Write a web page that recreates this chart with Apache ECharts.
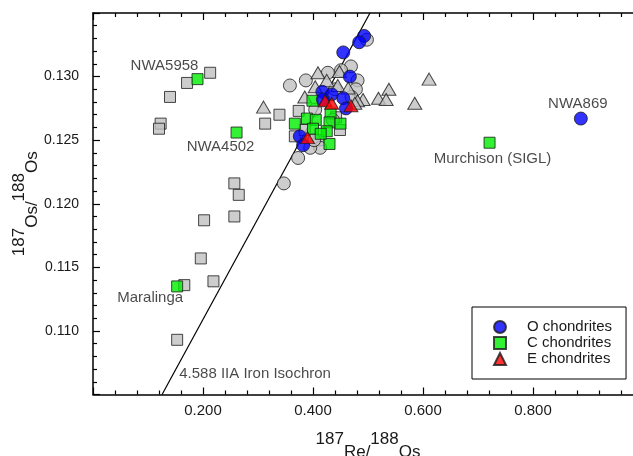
<!DOCTYPE html>
<html><head><meta charset="utf-8">
<script src="https://cdn.jsdelivr.net/npm/echarts@6/dist/echarts.min.js"></script>
<style>html,body{margin:0;padding:0;background:#fff}#c{width:633px;height:456px}</style>
</head><body><div id="c"></div>
<script>
// ---- data ----
const oChondrites = [[0.493,0.1332],[0.484,0.1327],[0.455,0.1319],[0.467,0.1300],[0.417,0.1288],[0.434,0.1286],[0.455,0.1283],[0.460,0.1275],[0.418,0.1282],[0.376,0.1253],[0.382,0.1246],[0.887,0.1267]];
const oNames = ['','','','','','','','','','','','NWA869'];
const cChondrites = [[0.190,0.1298],[0.261,0.1256],[0.153,0.1135],[0.721,0.1248],[0.399,0.1281],[0.367,0.1263],[0.389,0.1267],[0.405,0.1266],[0.432,0.1271],[0.430,0.1264],[0.450,0.1263],[0.400,0.1259],[0.425,0.1257],[0.430,0.1247],[0.414,0.1255]];
const cNames = ['NWA5958','NWA4502','Maralinga','Murchison (SIGL)','','','','','','','','','','',''];
const eChondrites = [[0.422,0.1281],[0.434,0.1279],[0.469,0.1277],[0.390,0.1252]];
const graySquares = [[0.213,0.1303],[0.171,0.1295],[0.140,0.1284],[0.123,0.1263],[0.120,0.1259],[0.313,0.1263],[0.339,0.1270],[0.374,0.1273],[0.257,0.1216],[0.265,0.1207],[0.202,0.1187],[0.257,0.1190],[0.196,0.1157],[0.166,0.1136],[0.219,0.1139],[0.153,0.1093],[0.367,0.1253],[0.385,0.1258],[0.449,0.1258],[0.442,0.1268],[0.410,0.1250]];
const grayCircles = [[0.498,0.1329],[0.469,0.1308],[0.451,0.1305],[0.427,0.1303],[0.387,0.1297],[0.358,0.1293],[0.481,0.1297],[0.373,0.1236],[0.347,0.1216],[0.413,0.1244],[0.395,0.1244],[0.402,0.1250],[0.478,0.1290],[0.440,0.1290],[0.436,0.1266],[0.404,0.1274],[0.470,0.1284]];
const grayTriangles = [[0.310,0.1276],[0.409,0.1303],[0.448,0.1304],[0.611,0.1298],[0.538,0.1290],[0.519,0.1283],[0.533,0.1282],[0.491,0.1282],[0.481,0.1281],[0.585,0.1279],[0.404,0.1292],[0.385,0.1284],[0.445,0.1293],[0.464,0.1291],[0.425,0.1297],[0.476,0.1279]];
const isochron = [[0.1256,0.105],[0.5036,0.135]];
const isochronLabel = '4.588 IIA Iron Isochron';
const legendNames = ['O chondrites','C chondrites','E chondrites'];
const xTickLabels = ['0.200','0.400','0.600','0.800'];
const yTickLabels = ['0.110','0.115','0.120','0.125','0.130'];

// ---- styles ----
const FONT = 'Liberation Sans, Arial, sans-serif';
const TXT = '#1a1a1a';
const labelOffsets = {
  'NWA5958':[-33,-13], 'NWA4502':[-16,14], 'Maralinga':[-27,11],
  'Murchison (SIGL)':[3,16], 'NWA869':[-3,-15]
};
function withLabels(data, names){
  return data.map((d,i)=>{
    const n = names[i];
    if(!n) return d;
    return {value:d, label:{show:true, formatter:n, position:'inside', offset:labelOffsets[n],
      color:TXT, fontSize:15, fontFamily:FONT}};
  });
}
const border = {borderColor:'#1a1a1a', borderWidth:1};
const chart = echarts.init(document.getElementById('c'));
const fmt = (labels)=> (v)=>{ const s=v.toFixed(3); return labels.indexOf(s)>=0 ? s : ''; };
const axisCommon = {
  axisLine:{show:true,onZero:false,lineStyle:{color:'#000',width:1.5}},
  axisTick:{show:true,inside:true,length:7,lineStyle:{color:'#000',width:1.2}},
  minorTick:{show:true,splitNumber:5,length:4,lineStyle:{color:'#000',width:1.2}},
  splitLine:{show:false}
};
const nameRich = {
  sup:{fontSize:17,fontFamily:FONT,color:TXT,lineHeight:20,verticalAlign:'top'},
  base:{fontSize:17,fontFamily:FONT,color:TXT,lineHeight:30,verticalAlign:'bottom'}
};
chart.setOption({
  animation:false,
  backgroundColor:'#fff',
  grid:{left:93,top:13,right:-10,bottom:61.5,containLabel:false,outerBoundsMode:'none'},
  xAxis:[
    Object.assign({type:'value',min:0,max:1.0,interval:0.2,position:'bottom',
      axisLabel:{formatter:fmt(xTickLabels),fontSize:15,fontFamily:FONT,color:TXT,margin:9},
      name:'{sup|187}{base|Re/}{sup|188}{base|Os}',nameLocation:'middle',nameGap:36,nameMoveOverlap:false,
      nameTextStyle:{rich:nameRich}},axisCommon),
    Object.assign({type:'value',min:0,max:1.0,interval:0.2,position:'top',axisLabel:{show:false}},axisCommon)
  ],
  yAxis:[
    Object.assign({type:'value',min:0.105,max:0.135,interval:0.005,position:'left',
      axisLabel:{formatter:fmt(yTickLabels),fontSize:14,fontFamily:FONT,color:TXT,margin:14},
      name:'{sup|187}{base|Os/}{sup|188}{base|Os}',nameLocation:'middle',nameGap:52,nameRotate:90,nameMoveOverlap:false,
      nameTextStyle:{rich:nameRich}},axisCommon)
  ],
  legend:{
    orient:'vertical',left:472,top:307,
    padding:[12,14,12,21],itemGap:0,itemWidth:12,itemHeight:12,
    borderColor:'#000',borderWidth:1,backgroundColor:'#fff',
    textStyle:{fontSize:15,fontFamily:FONT,color:TXT,lineHeight:16,padding:[0,0,0,16]},
    data:[{name:legendNames[0],icon:'circle'},{name:legendNames[1],icon:'rect'},{name:legendNames[2],icon:'triangle'}]
  },
  series:[
    {type:'line',name:'isochron',data:isochron,showSymbol:false,symbol:'none',
      lineStyle:{color:'#000',width:1.2},z:1,silent:true},
    {type:'scatter',name:'isoLabel',data:[{value:isochron[0],label:{show:true,formatter:isochronLabel,position:'inside',offset:[93,-21],color:TXT,fontSize:15,fontFamily:FONT}}],symbolSize:0,z:1},
    {type:'scatter',name:'gray squares',data:graySquares,symbol:'rect',symbolSize:11,itemStyle:Object.assign({color:'#c0c0c0'},border),z:2},
    {type:'scatter',name:'gray circles',data:grayCircles,symbol:'circle',symbolSize:13,itemStyle:Object.assign({color:'#c0c0c0'},border),z:2},
    {type:'scatter',name:'gray triangles',data:grayTriangles,symbol:'triangle',symbolSize:[14,12],itemStyle:Object.assign({color:'#c0c0c0'},border),z:2},
    {type:'scatter',name:legendNames[1],data:withLabels(cChondrites,cNames),symbol:'rect',symbolSize:11,itemStyle:Object.assign({color:'#00ee00'},border),z:3},
    {type:'scatter',name:legendNames[0],data:withLabels(oChondrites,oNames),symbol:'circle',symbolSize:13,itemStyle:Object.assign({color:'#0000ff'},border),z:4},
    {type:'scatter',name:legendNames[2],data:eChondrites,symbol:'triangle',symbolSize:[14,12],itemStyle:Object.assign({color:'#ff0000'},border),z:5}
  ]
});
</script></body></html>
